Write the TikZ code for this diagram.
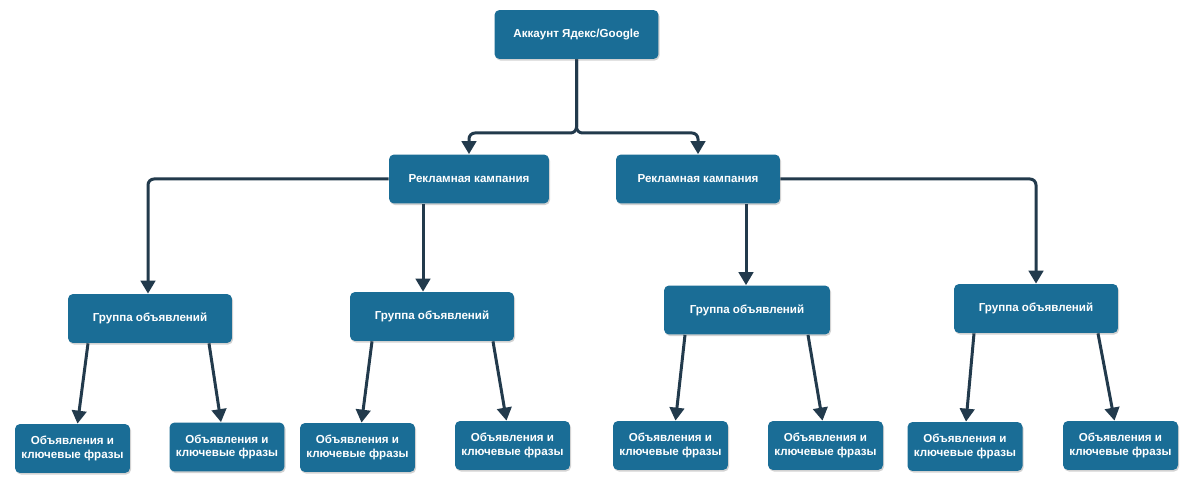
\documentclass[tikz,border=0pt]{standalone}
\usepackage{fontspec}
\setmainfont{Liberation Sans}
\usetikzlibrary{arrows.meta,shadows,calc}
\definecolor{boxblue}{RGB}{26,109,150}
\definecolor{linedark}{RGB}{34,58,76}
\begin{document}
\begin{tikzpicture}[x=0.02cm,y=-0.02cm,
  box/.style={fill=boxblue, rounded corners=0.1cm, text=white, font=\bfseries\fontsize{6.6}{7.5}\selectfont,
    align=center, inner sep=0pt, minimum height=0.98cm,
    drop shadow={opacity=0.35, shadow xshift=0.6pt, shadow yshift=-0.9pt}},
  wbox/.style={box, minimum width=3.28cm},
  leaf/.style={box, minimum width=2.3cm},
  conn/.style={draw=linedark, line width=0.06cm, -{Triangle[length=0.26cm,width=0.29cm]}},
  conn2/.style={conn, rounded corners=0.12cm}]
\useasboundingbox (0,0) rectangle (1200,486);
\fill[white] (0,0) rectangle (1200,486);
% nodes
\node[wbox] (top) at (576.5,34.5) {Аккаунт Ядекс/Google};
\node[box, minimum width=3.2cm] (rk1) at (469,179) {Рекламная кампания};
\node[wbox] (rk2) at (698,179) {Рекламная кампания};
\node[wbox] (g1) at (150,318.5) {Группа объявлений};
\node[wbox] (g2) at (432,316.5) {Группа объявлений};
\node[box, minimum width=3.32cm] (g3) at (747,310) {Группа объявлений};
\node[wbox] (g4) at (1036,308.5) {Группа объявлений};
\node[leaf] (l1) at (72.5,448.5) {Объявления и\\ключевые фразы};
\node[leaf] (l2) at (227,447) {Объявления и\\ключевые фразы};
\node[leaf] (l3) at (357.5,447.5) {Объявления и\\ключевые фразы};
\node[leaf] (l4) at (512.5,445.5) {Объявления и\\ключевые фразы};
\node[leaf] (l5) at (670.5,445.5) {Объявления и\\ключевые фразы};
\node[leaf] (l6) at (825.5,445.5) {Объявления и\\ключевые фразы};
\node[leaf] (l7) at (965,446.5) {Объявления и\\ключевые фразы};
\node[leaf] (l8) at (1120.5,445.5) {Объявления и\\ключевые фразы};
% connectors top -> campaigns
\coordinate (split) at (576.5,133);
\draw[conn2] (top.south) -- (split) -| (rk1.north);
\draw[conn2] (top.south) -- (split) -| (rk2.north);
% campaigns -> groups
\draw[conn2] (rk1.west) -| ([xshift=-0.04cm]g1.north);
\coordinate (a2) at ([xshift=-0.18cm]g2.north);
\draw[conn] (rk1.south -| a2) -- (a2);
\coordinate (a3) at ([xshift=-0.02cm]g3.north);
\draw[conn] (rk2.south -| a3) -- (a3);
\draw[conn2] (rk2.east) -| (g4.north);
% groups -> leaves
\draw[conn] ([xshift=-1.24cm]g1.south) -- ([xshift=0.1cm]l1.north);
\draw[conn] ([xshift=1.18cm]g1.south) -- ([xshift=-0.12cm]l2.north);
\draw[conn] ([xshift=-1.2cm]g2.south) -- ([xshift=0.08cm]l3.north);
\draw[conn] ([xshift=1.22cm]g2.south) -- ([xshift=-0.12cm]l4.north);
\draw[conn] ([xshift=-1.24cm]g3.south) -- ([xshift=0.1cm]l5.north);
\draw[conn] ([xshift=1.22cm]g3.south) -- ([xshift=-0.06cm]l6.north);
\draw[conn] ([xshift=-1.24cm]g4.south) -- ([xshift=0.02cm]l7.north);
\draw[conn] ([xshift=1.24cm]g4.south) -- ([xshift=-0.12cm]l8.north);
\end{tikzpicture}
\end{document}
